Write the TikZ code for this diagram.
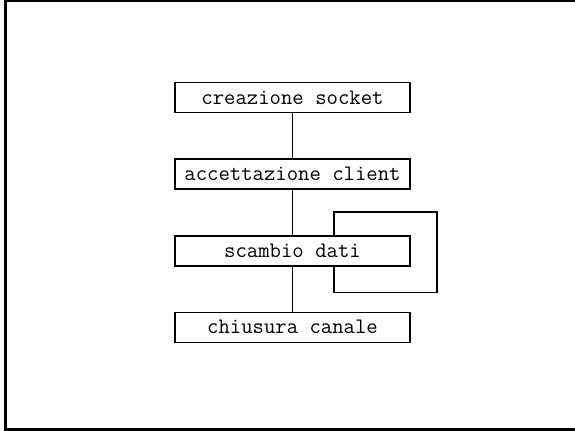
\documentclass[tikz,border=0pt]{standalone}
\usepackage{tikz}
\usetikzlibrary{positioning}

\begin{document}
\begin{tikzpicture}[x=0.5pt,y=-0.5pt,
    fase/.style={draw, line width=0.8pt, minimum width=117.5pt, minimum height=15pt,
      inner sep=0pt, font=\fontsize{11.05}{12}\selectfont\ttfamily},
    node distance=22.5pt]
\useasboundingbox (0,0) rectangle (575,430);
% cornice
\draw[line width=1.5pt] (575,0.5) -- (5.5,0.5) -- (5.5,429) -- (575,429);

% fasi del server
\node[fase] (sock) at (292.5,97.5) {creazione socket};
\node[fase, below=of sock] (acc) {accettazione client};
\node[fase, below=of acc] (dati) {scambio dati};
\node[fase, below=of dati] (chiu) {chiusura canale};

\draw[line width=0.8pt] (sock) -- (acc);
\draw[line width=0.8pt] (acc) -- (dati);
\draw[line width=0.8pt] (dati) -- (chiu);

% ciclo sullo scambio dati
\coordinate (loopa) at ([xshift=80pt]dati.north west);
\coordinate (loopb) at ([xshift=80pt]dati.south west);
\draw[line width=0.8pt] (loopa) -- ++(0,-23) -| ([xshift=13pt,yshift=-13pt]dati.south east) -| (loopb);
\end{tikzpicture}
\end{document}
